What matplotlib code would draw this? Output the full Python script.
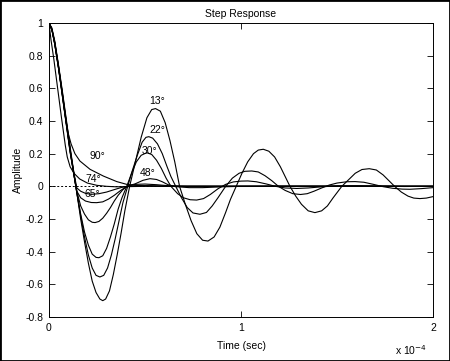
import numpy as np
import matplotlib
matplotlib.use("Agg")
import matplotlib.pyplot as plt
from matplotlib.patches import Rectangle

plt.rcParams['font.family'] = ['Liberation Sans', 'DejaVu Sans']

# time in units of 1e-5 s
t_13 = [0, 0.15, 0.3, 0.5, 0.7, 0.9, 1.1, 1.3, 1.45, 1.65, 1.85, 2.05, 2.25, 2.45, 2.65, 2.8, 2.95, 3.15, 3.35,
        3.55, 3.75, 3.95, 4.2, 4.5, 4.8, 5.1, 5.35, 5.55, 5.8, 6.05, 6.3, 6.55, 6.8, 7.1, 7.4, 7.7, 8.0, 8.28,
        8.6, 8.9, 9.2, 9.45, 9.75, 10.05, 10.35, 10.65, 10.9, 11.16, 11.45, 11.75, 12.05, 12.3, 12.55, 12.85,
        13.15, 13.5, 13.85, 14.2, 14.5, 14.8, 15.25, 15.6, 15.95, 16.3, 16.68, 17.05, 17.4, 17.7, 18.0, 18.35,
        18.7, 19.0, 19.32, 19.65, 20.0]
y_13 = [1.0, 0.97, 0.89, 0.74, 0.58, 0.41, 0.24, 0.08, -0.04, -0.20, -0.34, -0.47, -0.58, -0.65, -0.69, -0.70,
        -0.69, -0.64, -0.54, -0.42, -0.29, -0.15, 0.0, 0.15, 0.30, 0.42, 0.47, 0.476, 0.46, 0.39, 0.28, 0.15, 0.0,
        -0.11, -0.21, -0.29, -0.33, -0.335, -0.31, -0.25, -0.16, -0.08, 0.0, 0.08, 0.15, 0.20, 0.222, 0.227, 0.215,
        0.18, 0.12, 0.06, 0.0, -0.06, -0.11, -0.15, -0.161, -0.15, -0.12, -0.07, 0.0, 0.04, 0.08, 0.103, 0.108,
        0.10, 0.07, 0.035, 0.0, -0.035, -0.06, -0.072, -0.075, -0.072, -0.063]

t_22 = [0, 0.15, 0.3, 0.5, 0.7, 0.9, 1.1, 1.3, 1.45, 1.65, 1.85, 2.05, 2.25, 2.45, 2.65, 2.85, 3.05, 3.25, 3.45,
        3.65, 3.85, 4.1, 4.35, 4.6, 4.85, 5.05, 5.2, 5.4, 5.65, 5.9, 6.15, 6.35, 6.6, 6.9, 7.2, 7.5, 7.86, 8.2,
        8.5, 8.8, 9.2, 9.55, 9.9, 10.2, 10.56, 10.9, 11.25, 11.6, 11.95, 12.3, 12.7, 13.1, 13.45, 13.8, 14.2,
        14.6, 15.0, 15.5, 15.94, 16.4, 16.9, 17.4, 17.9, 18.4, 18.8, 19.4, 20.0]
y_22 = [1.0, 0.96, 0.88, 0.73, 0.57, 0.40, 0.23, 0.07, -0.04, -0.18, -0.31, -0.42, -0.50, -0.545, -0.555, -0.545,
        -0.50, -0.42, -0.32, -0.21, -0.10, 0.0, 0.10, 0.19, 0.27, 0.30, 0.304, 0.295, 0.26, 0.20, 0.12, 0.06, 0.0,
        -0.07, -0.13, -0.163, -0.171, -0.16, -0.12, -0.07, 0.0, 0.05, 0.08, 0.092, 0.094, 0.088, 0.065, 0.035, 0.0,
        -0.025, -0.045, -0.05, -0.045, -0.03, -0.01, 0.008, 0.02, 0.028, 0.029, 0.025, 0.012, -0.002, -0.012,
        -0.017, -0.018, -0.014, -0.008]

t_30 = [0, 0.15, 0.3, 0.5, 0.7, 0.9, 1.1, 1.3, 1.45, 1.65, 1.85, 2.05, 2.25, 2.45, 2.6, 2.8, 3.0, 3.2, 3.4, 3.6,
        3.8, 4.05, 4.3, 4.55, 4.8, 5.09, 5.35, 5.6, 5.85, 6.1, 6.35, 6.7, 7.0, 7.35, 7.69, 8.05, 8.4, 8.8, 9.2,
        9.6, 10.0, 10.36, 10.8, 11.3, 11.8, 12.3, 12.9, 13.5, 14.2, 15.0, 16.0, 17.0, 18.5, 20.0]
y_30 = [1.0, 0.96, 0.87, 0.72, 0.56, 0.39, 0.22, 0.07, -0.04, -0.17, -0.28, -0.36, -0.415, -0.435, -0.437,
        -0.425, -0.38, -0.31, -0.23, -0.14, -0.07, 0.0, 0.08, 0.15, 0.19, 0.206, 0.195, 0.16, 0.11, 0.05, 0.0,
        -0.045, -0.07, -0.082, -0.084, -0.075, -0.05, -0.015, 0.012, 0.027, 0.032, 0.033, 0.028, 0.015, 0.0,
        -0.01, -0.013, -0.01, -0.003, 0.003, 0.004, 0.002, -0.001, 0.0]

t_48 = [0, 0.15, 0.3, 0.5, 0.7, 0.9, 1.1, 1.3, 1.45, 1.65, 1.85, 2.05, 2.25, 2.4, 2.6, 2.8, 3.0, 3.2, 3.4, 3.6,
        3.85, 4.06, 4.48, 4.9, 5.26, 5.6, 5.9, 6.2, 6.6, 7.3, 8.0, 9.0, 10.0, 12.0, 20.0]
y_48 = [1.0, 0.96, 0.87, 0.72, 0.55, 0.38, 0.21, 0.07, -0.03, -0.12, -0.17, -0.205, -0.22, -0.222, -0.215,
        -0.195, -0.165, -0.13, -0.09, -0.055, -0.02, 0.0, 0.015, 0.037, 0.047, 0.042, 0.028, 0.01, -0.002,
        -0.008, -0.008, -0.003, 0.0, 0.001, 0.0]

t_65 = [0, 0.15, 0.3, 0.5, 0.7, 0.9, 1.1, 1.3, 1.45, 1.65, 1.9, 2.2, 2.48, 2.8, 3.1, 3.4, 3.7, 4.05, 4.5, 5.0,
        5.6, 6.3, 7.2, 20.0]
y_65 = [1.0, 0.96, 0.87, 0.72, 0.55, 0.38, 0.21, 0.07, -0.03, -0.07, -0.09, -0.099, -0.1, -0.095, -0.078,
        -0.055, -0.028, 0.0, 0.012, 0.014, 0.01, 0.003, -0.001, 0.0]

t_x = [0, 0.15, 0.3, 0.5, 0.7, 0.9, 1.1, 1.3, 1.45, 1.65, 1.9, 2.2, 2.6, 3.0, 3.4, 3.8, 4.1, 4.6, 5.3, 6.2, 20.0]
y_x = [1.0, 0.96, 0.88, 0.73, 0.56, 0.39, 0.22, 0.08, -0.01, -0.03, -0.043, -0.049, -0.045, -0.035, -0.02,
       -0.006, 0.0, 0.004, 0.004, 0.001, 0.0]

t_74 = [0, 0.1, 0.25, 0.45, 0.65, 0.85, 0.95, 1.1, 1.3, 1.6, 2.0, 2.5, 3.0, 3.5, 4.0, 5.0, 20.0]
y_74 = [1.0, 0.9, 0.78, 0.6, 0.42, 0.25, 0.18, 0.12, 0.08, 0.045, 0.02, 0.006, 0.0, -0.003, -0.002, 0.0, 0.0]

t_90 = [0, 0.15, 0.3, 0.5, 0.7, 0.8, 0.9, 1.0, 1.15, 1.35, 1.61, 2.14, 2.83, 3.53, 4.05, 4.6, 5.5, 20.0]
y_90 = [1.0, 0.96, 0.88, 0.73, 0.56, 0.47, 0.39, 0.325, 0.26, 0.2, 0.155, 0.104, 0.063, 0.029, 0.012, 0.005,
        0.001, 0.0]

curves = [(t_13, y_13), (t_22, y_22), (t_30, y_30), (t_48, y_48),
          (t_65, y_65), (t_x, y_x), (t_74, y_74), (t_90, y_90)]

labels = ["13\u00b0", "22\u00b0", "30\u00b0", "48\u00b0", "90\u00b0", "74\u00b0", "65\u00b0"]
label_x = [0.562, 0.562, 0.521, 0.516, 0.25, 0.229, 0.224]
label_y = [0.52, 0.343, 0.214, 0.08, 0.184, 0.043, -0.049]

fig = plt.figure(figsize=(4.5, 3.61), dpi=100)
ax = fig.add_axes([49 / 450, 44 / 361, 384 / 450, 294 / 361])

ax.plot([0, 2], [0, 0], color='black', lw=0.7, ls=(0, (2, 2)))
for t, y in curves:
    ax.plot(np.array(t) / 10, y, color='black', lw=0.8)

for s, x, y in zip(labels, label_x, label_y):
    ax.text(x, y, s, fontsize=7.5, ha='center', va='center')

ax.set_xlim(0, 2)
ax.set_ylim(-0.8, 1)
ax.set_xticks([0, 1, 2])
ax.set_xticklabels(['0', '1', '2'])
ax.set_yticks(np.arange(-0.8, 1.01, 0.2))
ax.set_yticklabels(['-0.8', '-0.6', '-0.4', '-0.2', '0', '0.2', '0.4', '0.6', '0.8', '1'])
ax.tick_params(direction='in', length=4, width=0.6, labelsize=7.5, top=True, right=True, pad=4)
for sp in ax.spines.values():
    sp.set_linewidth(0.7)

ax.set_title("Step Response", fontsize=7.5, pad=4)
ax.set_xlabel("Time (sec)", fontsize=7.5, labelpad=6)
ax.set_ylabel("Amplitude", fontsize=7.5, labelpad=2)
fig.text(395 / 450, 1 - 355 / 361, r"x 10$^{-4}$", fontsize=7.5, va='baseline')

fig.patches.append(Rectangle((0, 0), 1, 1, transform=fig.transFigure, fill=False,
                             edgecolor='black', lw=2))

fig.savefig("out.png", dpi=100)
